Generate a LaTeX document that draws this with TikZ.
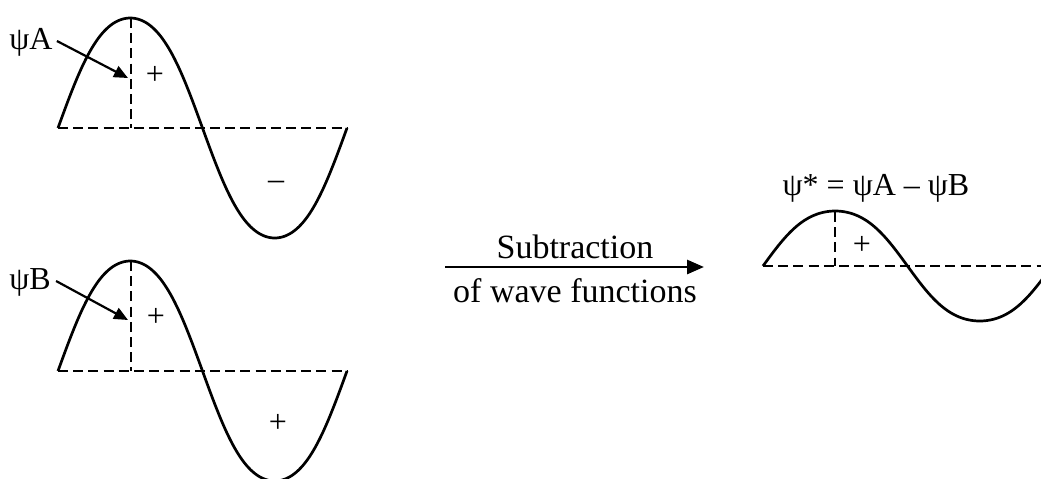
\documentclass[tikz,border=0pt]{standalone}
\usepackage{fontspec}
\setmainfont{Liberation Serif}
\usetikzlibrary{arrows.meta}
\begin{document}
\begin{tikzpicture}[x=0.5pt,y=-0.5pt,
  declare function={sh(\t)=sin(\t)*(1+0.15*cos(\t)*cos(\t));},
  wave/.style={line width=1.35pt},
  axis/.style={line width=1.15pt, dash pattern=on 5pt off 2.6pt},
  lbl/.style={font=\fontsize{16}{18}\selectfont, inner sep=0pt},
  sgn/.style={font=\fontsize{16}{18}\selectfont, inner sep=0pt},
  ptr/.style={line width=1.1pt, -{Triangle[length=7pt,width=6pt]}},
  bigarrow/.style={line width=1.4pt, -{Triangle[length=8.5pt,width=7pt]}}]
\useasboundingbox (0,0) rectangle (1041,478);
\begin{scope}
\clip (0,0) rectangle (1041,478);
% wave A
\draw[axis] (58,128) -- (347,128);
\draw[axis] (131,18) -- (131,128);
\draw[wave] plot[domain=0:360,samples=145] ({58+0.80278*\x},{128-110*sh(\x)});
\node[lbl] (psiA) at (31,42) {ψA};
\coordinate (tipA) at (128,78);
\draw[ptr] (psiA.east) ++(4,-1) coordinate (startA) (startA) -- (tipA);
\node[sgn] (plusA) at (155,75) {+};
\node[sgn] (minusA) at (276,185) {–};
% wave B
\draw[axis] (58,371) -- (347,371);
\draw[axis] (131,261) -- (131,371);
\draw[wave] plot[domain=0:360,samples=145] ({58+0.80278*\x},{371-110*sh(\x)});
\node[lbl] (psiB) at (30,282) {ψB};
\coordinate (tipB) at (128,320);
\draw[ptr] (psiB.east) ++(5,-1) coordinate (startB) (startB) -- (tipB);
\node[sgn] (plusB) at (156,317) {+};
\node[sgn] (plusB2) at (278,423) {+};
% big arrow
\coordinate (arrS) at (445,267);
\coordinate (arrE) at (704,267);
\draw[bigarrow] (arrS) -- (arrE);
\node[lbl, font=\fontsize{17}{19}\selectfont] (sub) at (575,247) {Subtraction};
\node[lbl, font=\fontsize{17}{19}\selectfont] (wf) at (575,291) {of wave functions};
% result wave
\draw[axis] (763,266) -- (1045,266);
\draw[axis] (835,212) -- (835,266);
\draw[wave] plot[domain=0:352,samples=145] ({763+0.80278*\x},{266-55*sh(\x)});
\node[sgn] (plusR) at (862,245) {+};
\node[lbl] (eq) at (876,188) {ψ* = ψA – ψB};
\end{scope}
\end{tikzpicture}
\end{document}
